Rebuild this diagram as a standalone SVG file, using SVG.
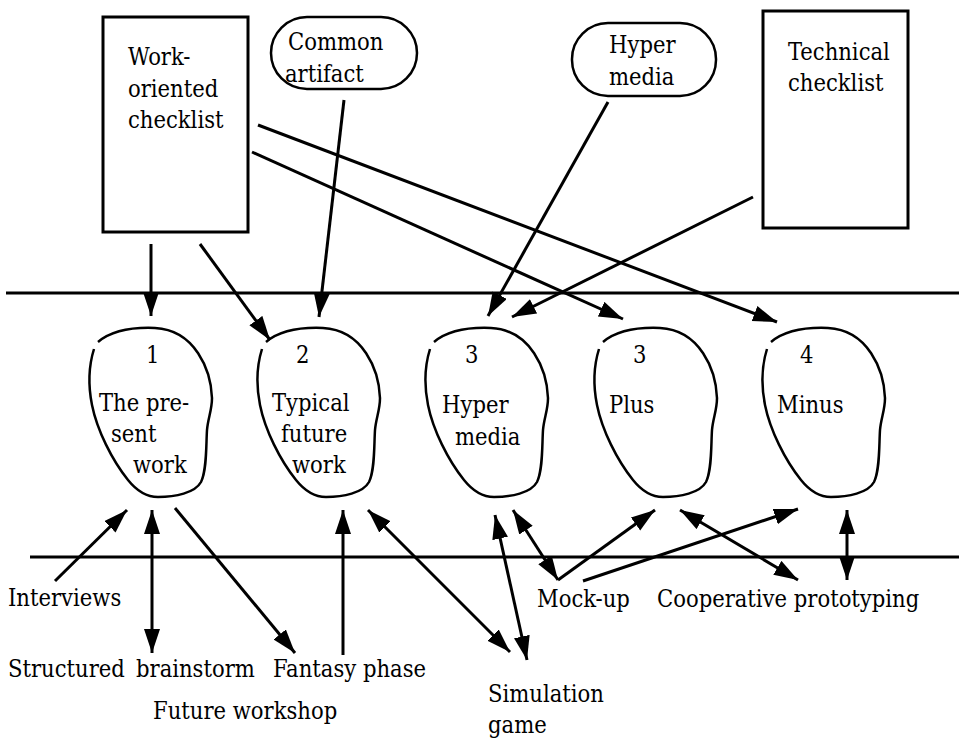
<svg xmlns="http://www.w3.org/2000/svg" width="959" height="738" viewBox="0 0 959 738">
<style>
text{font-family:'DejaVu Serif Condensed','DejaVu Serif',serif;font-stretch:condensed;font-size:23.5px;fill:#000}
.box{fill:none;stroke:#000;stroke-width:3}
.pill{fill:none;stroke:#000;stroke-width:2.5}
.blob{fill:none;stroke:#000;stroke-width:2.5}
.sep{stroke:#000;stroke-width:3}
.c{stroke:#000;stroke-width:3;fill:none;marker-end:url(#ah)}
.d{stroke:#000;stroke-width:3;fill:none;marker-end:url(#ah);marker-start:url(#ah)}
</style>
<defs>
<marker id="ah" markerUnits="userSpaceOnUse" markerWidth="26" markerHeight="18" refX="24" refY="8" orient="auto-start-reverse">
<path d="M0,0 L24,8 L0,16 z" fill="#000"/>
</marker>
<path id="blobshape" d="M94,349 C89,365 88,385 92,405 C97,430 112,460 128,480 C136,490 145,497 158,497 C175,497 195,493 201,482 C207,470 206,445 207,430 C208,418 212,410 212,398 C211,370 195,330 155,328 C130,327 110,332 98,342"/>
</defs>

<g id="separators">
<line class="sep" x1="6" y1="293" x2="959" y2="293"/>
<line class="sep" x1="30" y1="557" x2="959" y2="557"/>
</g>

<g id="work-checklist">
<rect class="box" x="103" y="17" width="145" height="215"/>
<text x="128" y="65">Work-</text>
<text x="128" y="97">oriented</text>
<text x="128" y="128">checklist</text>
</g>
<g id="common-artifact">
<rect class="pill" x="271" y="17" width="146" height="72" rx="36" ry="36"/>
<text x="288" y="50">Common</text>
<text x="285" y="82">artifact</text>
</g>
<g id="hyper-media-top">
<rect class="pill" x="572" y="23" width="144" height="73" rx="36" ry="36"/>
<text x="609" y="53">Hyper</text>
<text x="609" y="85">media</text>
</g>
<g id="technical-checklist">
<rect class="box" x="763" y="11" width="145" height="217"/>
<text x="788" y="60">Technical</text>
<text x="788" y="91">checklist</text>
</g>

<g id="blob1">
<use href="#blobshape" class="blob"/>
<text x="146" y="363">1</text>
<text x="99" y="411">The pre-</text>
<text x="111" y="442">sent</text>
<text x="133" y="473">work</text>
</g>
<g id="blob2">
<use href="#blobshape" class="blob" transform="translate(168,0)"/>
<text x="296" y="363">2</text>
<text x="272" y="411">Typical</text>
<text x="281" y="442">future</text>
<text x="292" y="473">work</text>
</g>
<g id="blob3">
<use href="#blobshape" class="blob" transform="translate(336,0)"/>
<text x="465" y="363">3</text>
<text x="442" y="413">Hyper</text>
<text x="455" y="445">media</text>
</g>
<g id="blob4">
<use href="#blobshape" class="blob" transform="translate(505,0)"/>
<text x="633" y="363">3</text>
<text x="609" y="413">Plus</text>
</g>
<g id="blob5">
<use href="#blobshape" class="blob" transform="translate(673,0)"/>
<text x="800" y="363">4</text>
<text x="777" y="413">Minus</text>
</g>

<g id="labels">
<text x="8" y="606">Interviews</text>
<text x="8" y="677">Structured</text>
<text x="136" y="677">brainstorm</text>
<text x="273" y="677">Fantasy phase</text>
<text x="153" y="719">Future workshop</text>
<text x="537" y="607">Mock-up</text>
<text x="657" y="607">Cooperative prototyping</text>
<text x="488" y="702">Simulation</text>
<text x="488" y="733">game</text>
</g>

<g id="connectors">
<line class="c" x1="151" y1="244" x2="151" y2="316"/>
<line class="c" x1="200" y1="244" x2="270" y2="340"/>
<line class="c" x1="344" y1="100" x2="319" y2="317"/>
<line class="c" x1="258" y1="125" x2="777" y2="322"/>
<line class="c" x1="252" y1="152" x2="623" y2="319"/>
<line class="c" x1="608" y1="102" x2="488" y2="316"/>
<line class="c" x1="753" y1="197" x2="512" y2="317"/>

<line class="c" x1="55" y1="581" x2="127" y2="510"/>
<line class="d" x1="152" y1="510" x2="152" y2="653"/>
<line class="c" x1="175" y1="508" x2="295" y2="653"/>
<line class="c" x1="343" y1="655" x2="343" y2="510"/>
<line class="d" x1="368" y1="510" x2="510" y2="652"/>
<line class="d" x1="495" y1="515" x2="527" y2="660"/>
<line class="d" x1="513" y1="510" x2="558" y2="580"/>
<line class="c" x1="558" y1="580" x2="655" y2="510"/>
<line class="c" x1="583" y1="581" x2="798" y2="509"/>
<line class="d" x1="680" y1="510" x2="798" y2="580"/>
<line class="d" x1="847" y1="510" x2="847" y2="580"/>
</g>
</svg>
